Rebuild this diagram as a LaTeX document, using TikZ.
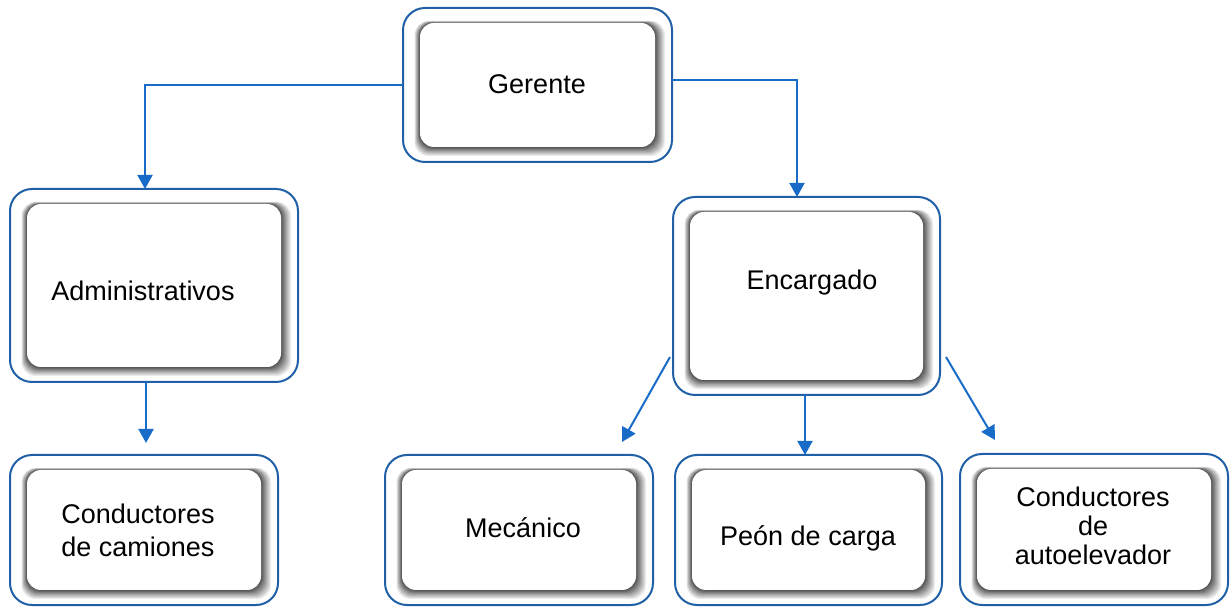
\documentclass[tikz,border=0pt]{standalone}
\usepackage{fontspec}
\setmainfont{Liberation Sans}
\usetikzlibrary{arrows.meta,calc}
\definecolor{boxblue}{RGB}{32,96,166}
\definecolor{linkblue}{RGB}{24,108,200}
\colorlet{shadegray}{black!72}
\tikzset{
  outerbox/.style={draw=boxblue, line width=2pt, fill=white, rounded corners=22pt, inner sep=0pt, outer sep=0pt},
  labeltext/.style={font=\fontsize{27}{31}\selectfont, align=center, inner sep=0pt},
  link/.style={draw=linkblue, line width=2pt, -{Triangle[length=14pt,width=15pt]}},
}
\newcommand\orgbox[5]{%
  \node[outerbox, minimum width={#4-#2}, minimum height={#5-#3}] (#1) at ({(#2+#4)/2},{607-(#3+#5)/2}) {};
  \foreach \i in {10,...,1}{%
    \pgfmathtruncatemacro\w{\i*9}%
    \fill[white!\w!shadegray, rounded corners=14pt] ({#2+17-0.55*\i},{607-(#5-15)-0.9*\i}) rectangle ({#4-17+\i},{607-(#3+15)+0.2*\i});
  }
  \fill[white, rounded corners=14pt] ({#2+17},{607-(#5-15)}) rectangle ({#4-17},{607-(#3+15)});
}
\begin{document}
\begin{tikzpicture}[x=1pt,y=1pt]
\useasboundingbox (0,0) rectangle (1230,607);
\orgbox{ger}{403}{8}{672}{162}
\orgbox{adm}{10}{189}{298}{382}
\orgbox{enc}{673}{197}{940}{395}
\orgbox{cam}{10}{455}{278}{605}
\orgbox{mec}{385}{455}{653}{605}
\orgbox{peon}{675}{455}{942}{605}
\orgbox{auto}{960}{454}{1228}{605}

\node[labeltext] (ger-t) at (537,{607-84}) {Gerente};
\node[labeltext] (adm-t) at (143,{607-291}) {Administrativos};
\node[labeltext] (enc-t) at (812,{607-283}) {Encargado};
\node[labeltext, font=\fontsize{27}{33}\selectfont] (cam-t) at (138,{607-530}) {Conductores\\de camiones};
\node[labeltext] (mec-t) at (523,{607-528}) {Mecánico};
\node[labeltext] (peon-t) at (808,{607-538}) {Peón de carga};
\node[labeltext, font=\fontsize{27}{29}\selectfont] (auto-t) at (1093,{607-526}) {Conductores\\de\\autoelevador};

\draw[link] (ger.west) -| ([xshift=-9pt]adm.north);
\draw[link] ([yshift=5pt]ger.east) -| ([xshift=-9.5pt]enc.north);
\draw[link] ([xshift=-8pt]adm.south) -- ([xshift=2pt,yshift=12pt]cam.north);
\draw[link] ([xshift=-3pt,yshift=38pt]enc.south west) -- ([xshift=-31pt,yshift=13pt]mec.north east);
\draw[link] ([xshift=-1.5pt]enc.south) -- ([xshift=-3.5pt]peon.north);
\draw[link] ([xshift=6pt,yshift=38pt]enc.south east) -- ([xshift=35pt,yshift=14pt]auto.north west);
\end{tikzpicture}
\end{document}
